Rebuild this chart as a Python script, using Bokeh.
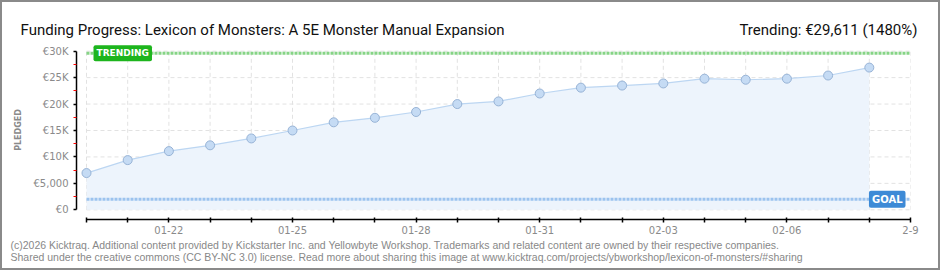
import pandas as pd
from bokeh.plotting import figure
from bokeh.layouts import column
from bokeh.models import FixedTicker, Range1d, Label
from bokeh.embed import file_html
from bokeh.resources import INLINE

# ---- data ----
dates = ["2026-01-20", "2026-01-21", "2026-01-22", "2026-01-23", "2026-01-24",
         "2026-01-25", "2026-01-26", "2026-01-27", "2026-01-28", "2026-01-29",
         "2026-01-30", "2026-01-31", "2026-02-01", "2026-02-02", "2026-02-03",
         "2026-02-04", "2026-02-05", "2026-02-06", "2026-02-07", "2026-02-08"]
pledged = [6950, 9400, 11100, 12200, 13500, 15000, 16550, 17400, 18500, 20000,
           20500, 22000, 23100, 23500, 23900, 24800, 24600, 24800, 25400, 26900]
goal = 2000
trending = 29611
axis_end_date = "2026-02-09"
x_label_dates = ["2026-01-22", "2026-01-25", "2026-01-28", "2026-01-31",
                 "2026-02-03", "2026-02-06", "2026-02-09"]
x_label_texts = ["01-22", "01-25", "01-28", "01-31", "02-03", "02-06", "2-9"]
y_ticks = [0, 5000, 10000, 15000, 20000, 25000, 30000]
y_tick_labels = ["€0", "€5,000", "€10K", "€15K", "€20K", "€25K", "€30K"]
title_text = "Funding Progress: Lexicon of Monsters: A 5E Monster Manual Expansion"
trend_text = "Trending: €29,611 (1480%)"
footer_lines = [
    "(c)2026 Kicktraq. Additional content provided by Kickstarter Inc. and Yellowbyte Workshop. Trademarks and related content are owned by their respective companies.",
    "Shared under the creative commons (CC BY-NC 3.0) license. Read more about sharing this image at www.kicktraq.com/projects/ybworkshop/lexicon-of-monsters/#sharing",
]

start = pd.Timestamp(dates[0])
days = [(pd.Timestamp(d) - start).days for d in dates]
end_day = (pd.Timestamp(axis_end_date) - start).days
all_days = list(range(0, end_day + 1))
label_days = [(pd.Timestamp(d) - start).days for d in x_label_dates]
overrides = {d: "" for d in all_days}
for d, t in zip(label_days, x_label_texts):
    overrides[d] = t

TICK_FONT = "DejaVu Sans"
W = 940


def bare(height):
    f = figure(width=W, height=height, output_backend="svg", toolbar_location=None,
               x_range=Range1d(0, W), y_range=Range1d(0, height),
               x_axis_type=None, y_axis_type=None, min_border=0, frame_align=False)
    f.outline_line_color = None
    f.background_fill_alpha = 0
    f.border_fill_alpha = 0
    f.xgrid.visible = False
    f.ygrid.visible = False
    return f


# ---- header ----
head = bare(40)
head.add_layout(Label(x=20, y=11, text=title_text, text_font="Roboto", text_font_size="15px",
                      text_color="#111111", text_baseline="alphabetic"))
head.add_layout(Label(x=917, y=11, text=trend_text, text_align="right", text_font="Roboto",
                      text_font_size="15px", text_color="#111111", text_baseline="alphabetic"))

# ---- main chart ----
p = figure(width=W, height=200, output_backend="svg", toolbar_location=None,
           x_range=Range1d(-0.2427, end_day), y_range=Range1d(-1835, 32022),
           min_border_left=76, min_border_right=30, min_border_top=0, min_border_bottom=21,
           frame_align=False)
p.outline_line_color = None
p.background_fill_color = "white"
p.border_fill_alpha = 0
p.xgrid.visible = False
p.ygrid.visible = False

grid_col = "#e2e2e2"
p.segment(x0=all_days, x1=all_days, y0=[y_ticks[0]] * len(all_days), y1=[y_ticks[-1]] * len(all_days),
          line_color=grid_col, line_width=1, line_dash="4 3")
p.segment(x0=[0] * len(y_ticks), x1=[end_day] * len(y_ticks), y0=y_ticks, y1=y_ticks,
          line_color=grid_col, line_width=1, line_dash="4 3")

p.varea(x=days, y1=[0] * len(days), y2=pledged, fill_color="#EDF4FC")
p.line(x=days, y=pledged, line_color="#BCD6F2", line_width=1.2)

p.segment(x0=[0], x1=[end_day], y0=[goal], y1=[goal], line_color="#9CC3EE", line_width=3, line_dash="3 1")
p.segment(x0=[0], x1=[end_day], y0=[trending], y1=[trending], line_color="#86D486", line_width=3, line_dash="3 1")

p.scatter(x=days, y=pledged, size=9, fill_color="#C5DBF4", line_color="#97B3D6", line_width=1)

xa = p.xaxis[0]
xa.ticker = FixedTicker(ticks=all_days, minor_ticks=[])
xa.major_label_overrides = overrides
xa.bounds = (0, end_day)
xa.axis_line_color = "black"
xa.axis_line_width = 1.5
xa.major_tick_line_color = "black"
xa.major_tick_line_width = 1.5
xa.major_tick_in = 2
xa.major_tick_out = 3
xa.minor_tick_line_color = None
xa.major_label_standoff = 3
xa.major_label_text_font = TICK_FONT
xa.major_label_text_font_size = "10px"
xa.major_label_text_color = "#8a8a8a"

ya = p.yaxis[0]
ya.ticker = FixedTicker(ticks=y_ticks,
                        minor_ticks=[(a + b) / 2 for a, b in zip(y_ticks[:-1], y_ticks[1:])])
ya.major_label_overrides = {t: l for t, l in zip(y_ticks, y_tick_labels)}
ya.bounds = (y_ticks[0], y_ticks[-1])
ya.axis_line_color = "black"
ya.axis_line_width = 1.5
ya.major_tick_line_color = "black"
ya.major_tick_line_width = 1.5
ya.major_tick_in = 0
ya.major_tick_out = 3
ya.minor_tick_line_color = "#ff0000"
ya.minor_tick_in = 0
ya.minor_tick_out = 3
ya.major_label_standoff = 5
ya.major_label_text_font = TICK_FONT
ya.major_label_text_font_size = "10px"
ya.major_label_text_color = "#8a8a8a"
ya.axis_label = "PLEDGED"
ya.axis_label_text_font = TICK_FONT
ya.axis_label_text_font_size = "8px"
ya.axis_label_text_font_style = "bold"
ya.axis_label_text_color = "#8a8a8a"
ya.axis_label_standoff = 8

p.add_layout(Label(x=days[0], y=trending, x_offset=7, text="TRENDING", text_baseline="middle",
                   text_color="white", text_font=TICK_FONT, text_font_size="9px", text_font_style="bold",
                   background_fill_color="#1DB51D", padding=3, border_radius=2))
p.add_layout(Label(x=end_day, y=goal, x_offset=-5, text="GOAL", text_baseline="middle", text_align="right",
                   text_color="white", text_font=TICK_FONT, text_font_size="10px", text_font_style="bold",
                   background_fill_color="#3D8AD6", padding=3, border_radius=2))

# ---- footer ----
foot = bare(30)
for i, line in enumerate(footer_lines):
    foot.add_layout(Label(x=10, y=26 - 12 * i, text=line, text_font="Liberation Sans",
                          text_font_size="10.5px", text_color="#888888", text_baseline="middle"))

layout = column(head, p, foot, spacing=0, width=W, height=270,
                styles={"box-shadow": "inset 0 0 0 2px #8a8a8a", "background-color": "white"})

open("out.html", "w").write(file_html(layout, INLINE))
